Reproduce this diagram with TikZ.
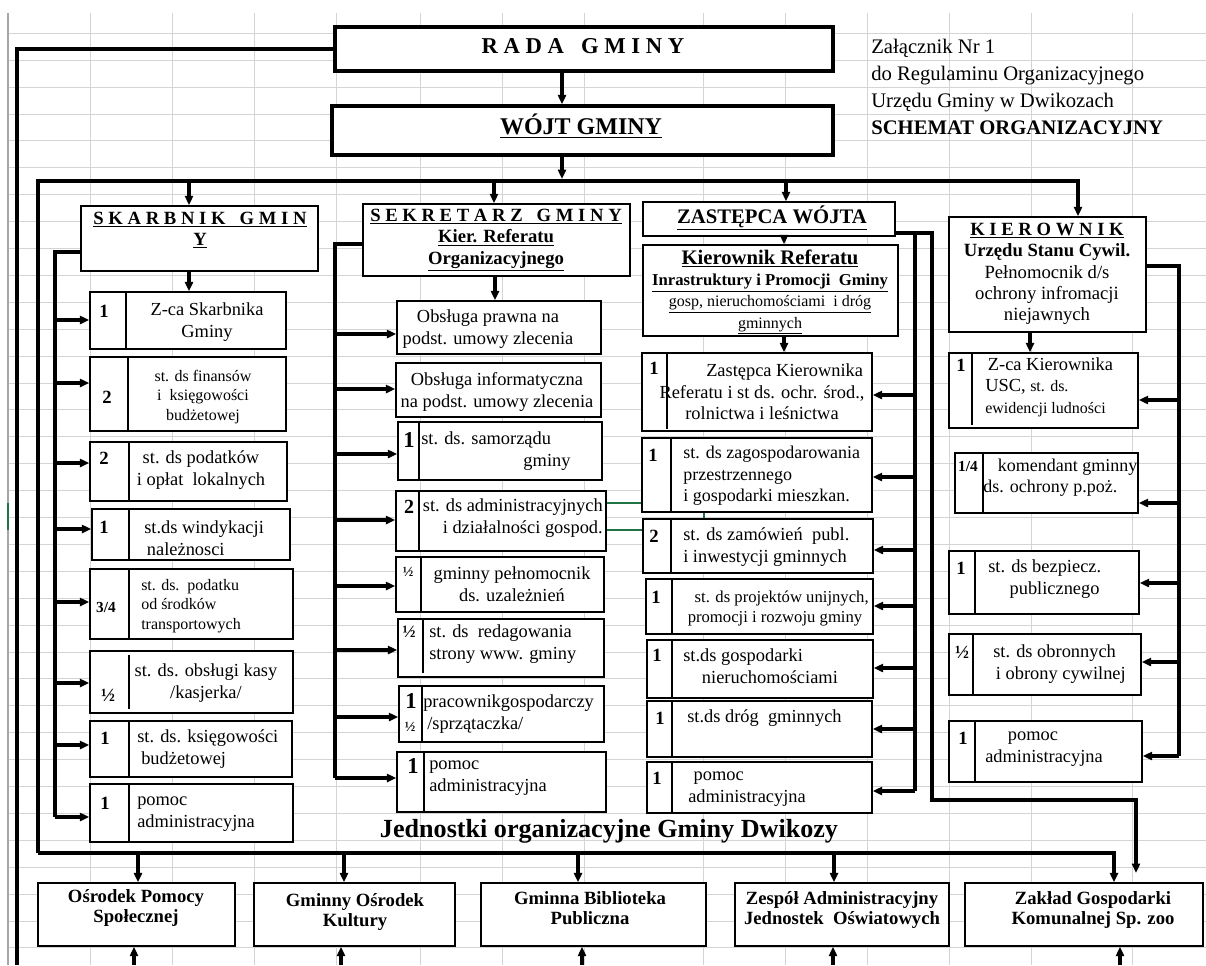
\documentclass[tikz,border=0pt]{standalone}
\usepackage{fontspec}
\setmainfont{Liberation Serif}
\usetikzlibrary{arrows.meta,fit}
\definecolor{xlgreen}{HTML}{217346}

\begin{document}
\begin{tikzpicture}
      [x=0.75pt,y=-0.75pt,
       gridline/.style={draw=black!17,line width=0.75pt},
       bigbox/.style={draw,line width=2.6pt,fill=white,inner sep=0pt},
       headbox/.style={draw,line width=1.2pt,fill=white,inner sep=0pt},
       stanbox/.style={draw,line width=1.1pt,fill=white,inner sep=0pt},
       divider/.style={line width=1.8pt},
       link/.style={line width=2.3pt},
       arr/.style={link,-{Triangle[length=7pt,width=6pt]}},
       txt/.style={inner sep=0pt,font=\fontsize{13.8}{16.2}\selectfont},
       sm/.style={inner sep=0pt,font=\fontsize{12}{14.5}\selectfont},
       num/.style={inner sep=0pt,font=\bfseries\fontsize{14}{16}\selectfont},
       part/.style={inner sep=0pt,font=\bfseries\fontsize{11.5}{14}\selectfont},
       half/.style={inner sep=0pt,font=\bfseries\fontsize{14}{16}\selectfont},
       bignum/.style={inner sep=0pt,font=\bfseries\fontsize{17}{18}\selectfont},
       head/.style={inner sep=0pt,align=center,font=\fontsize{14}{16}\selectfont},
       unitname/.style={inner sep=0pt,align=center,font=\bfseries\fontsize{14}{15.5}\selectfont}]
        \useasboundingbox (0,0) rectangle (1206,965);
        \fill[white] (0,0) rectangle (1206,965);

        % arkusz
        \foreach \x in {90,172,254,336,420,502,584,703,785,867,949,1031,1132}
          \draw[gridline] (\x,13) -- (\x,965);
        \foreach \k in {0,...,34}
          \draw[gridline] (8,33.3+26.9*\k) -- (1206,33.3+26.9*\k);
        \draw[black!35,line width=1pt] (8,13) -- (8,965);
        \draw[xlgreen,line width=1.5pt] (8,503) -- (8,530) (606,503) -- (643,503)
          (606,530) -- (643,530) (704,512) -- (704,519);

        \node[bigbox,fit={(335,27) (833,71)}] (rada) {};
        \node[inner sep=0pt,font=\bfseries\fontsize{17}{20}\selectfont] (radat) at (583,46) {R~A~D~A~~~G~M~I~N~Y};
        \node[bigbox,fit={(332,106) (833,155)}] (wojt) {};
        \node[inner sep=0pt,font=\bfseries\fontsize{18}{20}\selectfont] (wojtt) at (581,126) {\underline{WÓJT GMINY}};

        \node[anchor=west,align=left,inner sep=0pt,font=\fontsize{15.5}{20.2}\selectfont] (zal) at (871,87) {Załącznik Nr 1\\do Regulaminu Organizacyjnego\\Urzędu Gminy w Dwikozach\\\textbf{SCHEMAT ORGANIZACYJNY}};

        \node[headbox,fit={(81,206) (318,271)}] (skarb) {};
        \node[head] (skarbt) at (200,230) {\textbf{\underline{S~K~A~R~B~N~I~K~~~G~M~I~N}}\\\textbf{\underline{Y}}};
        \node[headbox,fit={(363,204) (630,276)}] (sekr) {};
        \node[head] (sekrt) at (496,240) {\textbf{\underline{S~E~K~R~E~T~A~R~Z~~~G~M~I~N~Y}}\\\textbf{\underline{Kier. Referatu}}\\\textbf{\underline{Organizacyjnego}}};
        \node[headbox,fit={(643,202) (895,236)}] (zast) {};
        \node[inner sep=0pt,font=\bfseries\fontsize{15.5}{18}\selectfont] (zastt) at (772,218) {\underline{ZASTĘPCA WÓJTA}};
        \node[headbox,fit={(643,245) (898,336)}] (kref) {};
        \node[head] (kreft) at (770,292) {{\bfseries\fontsize{15.5}{16}\selectfont\underline{Kierownik Referatu}}\\{\bfseries\fontsize{12.5}{15}\selectfont\underline{Inrastruktury i Promocji~~Gminy}}\\{\fontsize{12}{15}\selectfont\underline{gosp, nieruchomościami~~i dróg}}\\{\fontsize{12}{15}\selectfont\underline{gminnych}}};
        \node[headbox,fit={(949,217) (1146,332)}] (kier) {};
        \node[head] (kiert) at (1047,274) {\textbf{\underline{K~I~E~R~O~W~N~I~K}}\\\textbf{Urzędu Stanu Cywil.}\\Pełnomocnik d/s\\ochrony infromacji\\niejawnych};

        \node[stanbox,fit={(90,292) (286,349)}] (sk1) {};
        \node[num] (sk1n) at (104,311) {1};
        \node[txt,align=center] (sk1t) at (207,322) {Z-ca Skarbnika\\Gminy};
        \node[stanbox,fit={(90,357) (286,431)}] (sk2) {};
        \node[num] (sk2n) at (107,397) {2};
        \node[sm,align=center] (sk2t) at (203,397) {st. ds finansów\\i~~księgowości\\budżetowej};
        \node[stanbox,fit={(90,442) (287,501)}] (sk3) {};
        \node[num] (sk3n) at (104,458) {2};
        \node[txt,align=center] (sk3t) at (201,470) {st. ds podatków\\i opłat~~lokalnych};
        \node[stanbox,fit={(92,509) (290,560)}] (sk4) {};
        \node[num] (sk4n) at (104,527) {1};
        \node[txt,align=left,anchor=west] (sk4t) at (144,538) {st.ds windykacji\\\hspace*{2pt}należnosci};
        \node[stanbox,fit={(90,569) (293,639)}] (sk5) {};
        \node[part] (sk5n) at (106,607) {3/4};
        \node[sm,align=left,anchor=west] (sk5t) at (141,606) {st. ds.~~podatku\\od środków\\transportowych};
        \node[stanbox,fit={(90,651) (293,713)}] (sk6) {};
        \node[half] (sk6n) at (108,695) {½};
        \node[txt,align=center] (sk6t) at (206,683) {st. ds. obsługi kasy\\/kasjerka/};
        \node[stanbox,fit={(90,721) (292,777)}] (sk7) {};
        \node[num] (sk7n) at (105,738) {1};
        \node[txt,align=left,anchor=west] (sk7t) at (137,749) {st. ds. księgowości\\\hspace*{3pt}budżetowej};
        \node[stanbox,fit={(90,784) (293,842)}] (sk8) {};
        \node[num] (sk8n) at (105,803) {1};
        \node[txt,align=left,anchor=west] (sk8t) at (137,814) {pomoc\\administracyjna};
        \draw[divider] (126,292) -- (126,349) (128,357) -- (128,431) (129,442) -- (129,501)
          (129,509) -- (129,560) (129,569) -- (129,639) (129,655) -- (129,709)
          (129,721) -- (129,777) (129,784) -- (129,842);

        \node[stanbox,fit={(397,301) (601,354)}] (se1) {};
        \node[txt,align=center] (se1t) at (488,329) {Obsługa prawna na\\podst. umowy zlecenia};
        \node[stanbox,fit={(396,363) (601,417)}] (se2) {};
        \node[txt,align=center] (se2t) at (497,392) {Obsługa informatyczna\\na podst. umowy zlecenia};
        \node[stanbox,fit={(398,422) (602,480)}] (se3) {};
        \node[bignum] (se3n) at (409,440) {1};
        \node[txt,anchor=west] (se3t) at (421,440) {st. ds. samorządu};
        \node[txt] (se3u) at (547,462) {gminy};
        \node[stanbox,fit={(396,491) (606,551)}] (se4) {};
        \node[num,font=\bfseries\fontsize{15}{16}\selectfont] (se4n) at (409,507) {2};
        \node[txt,align=right,anchor=east] (se4t) at (603,518) {st. ds administracyjnych\\i działalności gospod.};
        \node[stanbox,fit={(396,557) (604,612)}] (se5) {};
        \node[part,font=\bfseries\fontsize{10.5}{12}\selectfont] (se5n) at (408,572) {½};
        \node[txt,align=center] (se5t) at (512,584) {gminny pełnomocnik\\ds. uzależnień};
        \node[stanbox,fit={(398,619) (604,677)}] (se6) {};
        \node[half,font=\bfseries\fontsize{13}{15}\selectfont] (se6n) at (409,632) {½};
        \node[txt,align=left,anchor=west] (se6t) at (429,644) {st. ds~~redagowania\\strony www. gminy};
        \node[stanbox,fit={(399,686) (604,742)}] (se7) {};
        \node[bignum] (se7n) at (411,701) {1};
        \node[part,font=\bfseries\fontsize{10.5}{12}\selectfont] (se7m) at (410,727) {½};
        \node[txt,align=left,anchor=west] (se7t) at (423,714) {pracownikgospodarczy\\\hspace*{3pt}/sprzątaczka/};
        \node[stanbox,fit={(397,752) (606,812)}] (se8) {};
        \node[bignum] (se8n) at (413,766) {1};
        \node[txt,align=left,anchor=west] (se8t) at (429,778) {pomoc\\administracyjna};
        \draw[divider] (419,422) -- (419,480) (419,491) -- (419,551) (421,557) -- (421,612)
          (423,619) -- (423,673) (422,686) -- (422,742) (424,752) -- (424,812);

        \node[stanbox,fit={(642,353) (872,431)}] (za1) {};
        \node[num] (za1n) at (654,368) {1};
        \node[txt,align=center] (za1t) at (762,392) {\hspace*{34pt}Zastępca Kierownika\\Referatu i st ds. ochr. środ.,\\rolnictwa i leśnictwa};
        \node[stanbox,fit={(642,438) (872,512)}] (za2) {};
        \node[num] (za2n) at (653,455) {1};
        \node[txt,align=left,anchor=west,font=\fontsize{13.5}{16}\selectfont] (za2t) at (683,476) {st. ds zagospodarowania\\przestrzennego\\i gospodarki mieszkan.};
        \node[stanbox,fit={(643,519) (873,573)}] (za3) {};
        \node[num] (za3n) at (654,536) {2};
        \node[txt,align=left,anchor=west] (za3t) at (683,547) {st. ds zamówień~~publ.\\i inwestycji gminnych};
        \node[stanbox,fit={(646,579) (873,634)}] (za4) {};
        \node[num] (za4n) at (656,597) {1};
        \node[sm,align=center,font=\fontsize{12.5}{15}\selectfont] (za4t) at (775,608) {\hspace*{10pt}st. ds projektów unijnych,\\promocji i rozwoju gminy};
        \node[stanbox,fit={(647,640) (873,698)}] (za5) {};
        \node[num] (za5n) at (657,655) {1};
        \node[txt,align=left,anchor=west] (za5t) at (683,666) {st.ds gospodarki\\\hspace*{14pt}nieruchomościami};
        \node[stanbox,fit={(647,701) (872,757)}] (za6) {};
        \node[num] (za6n) at (660,718) {1};
        \node[txt,anchor=west] (za6t) at (687,718) {st.ds dróg~~gminnych};
        \node[stanbox,fit={(647,762) (872,813)}] (za7) {};
        \node[num] (za7n) at (657,778) {1};
        \node[txt,align=left,anchor=west] (za7t) at (688,789) {\hspace*{4pt}pomoc\\administracyjna};
        \draw[divider] (667,353) -- (667,429) (671,438) -- (671,512) (671,519) -- (671,573)
          (672,579) -- (672,634) (672,640) -- (672,698) (672,701) -- (672,757) (672,762) -- (672,813);

        \node[stanbox,fit={(949,353) (1138,428)}] (ki1) {};
        \node[num] (ki1n) at (961,365) {1};
        \node[txt,align=left,anchor=west] (ki1t) at (985,387) {\hspace*{2pt}Z-ca Kierownika\\USC, {\fontsize{12}{15}\selectfont st. ds.}\\{\fontsize{12}{15}\selectfont ewidencji ludności}};
        \node[stanbox,fit={(955,453) (1138,513)}] (ki2) {};
        \node[part] (ki2n) at (968,467) {1/4};
        \node[txt,align=left,anchor=west,font=\fontsize{13.5}{16}\selectfont] (ki2t) at (983,478) {\hspace*{11pt}komendant gminny\\ds. ochrony p.poż.};
        \node[stanbox,fit={(949,551) (1139,614)}] (ki3) {};
        \node[num] (ki3n) at (961,568) {1};
        \node[txt,align=left,anchor=west] (ki3t) at (988,579) {st. ds bezpiecz.\\\hspace*{16pt}publicznego};
        \node[stanbox,fit={(949,634) (1141,695)}] (ki4) {};
        \node[half] (ki4n) at (962,652) {½};
        \node[txt,align=left,anchor=west] (ki4t) at (993,664) {st. ds obronnych\\\hspace*{2pt}i obrony cywilnej};
        \node[stanbox,fit={(949,721) (1142,782)}] (ki5) {};
        \node[num] (ki5n) at (963,738) {1};
        \node[txt,align=left,anchor=west] (ki5t) at (985,749) {\hspace*{17pt}pomoc\\administracyjna};
        \draw[divider] (972,353) -- (972,425) (983,453) -- (983,513) (975,551) -- (975,614)
          (973,634) -- (973,695) (975,721) -- (975,782);

        \node[inner sep=0pt,font=\bfseries\fontsize{19.6}{22}\selectfont] (jedn) at (609,831) {Jednostki organizacyjne Gminy Dwikozy};

        \node[stanbox,fit={(38,883) (235,946)}] (osp) {};
        \node[unitname] (ospt) at (136,908) {Ośrodek Pomocy\\Społecznej};
        \node[stanbox,fit={(254,883) (455,946)}] (gok) {};
        \node[unitname] (gokt) at (355,912) {Gminny Ośrodek\\Kultury};
        \node[stanbox,fit={(481,883) (706,946)}] (gbp) {};
        \node[unitname] (gbpt) at (590,908) {Gminna Biblioteka\\Publiczna};
        \node[stanbox,fit={(735,883) (949,946)}] (zaoj) {};
        \node[unitname] (zaojt) at (842,910) {Zespół Administracyjny\\Jednostek~~Oświatowych};
        \node[stanbox,fit={(965,883) (1203,946)}] (zak) {};
        \node[unitname] (zakt) at (1093,910) {Zakład Gospodarki\\Komunalnej Sp. zoo};

        \coordinate (b0) at (562,179);
        \coordinate (lbot) at (17,965);
        \coordinate (busNE) at (1078,181);
        \coordinate (busSW) at (38,853);
        \coordinate (busSE) at (1114,853);
        \coordinate (skb) at (55,252);
        \coordinate (seb) at (335,244);
        \coordinate (zab) at (915,233);
        \coordinate (zaout) at (932,233);
        \coordinate (zac) at (932,800);
        \coordinate (kib) at (1179,266);

        \draw[link] (rada.west) -| (lbot);
        \draw[arr] (rada.south -| b0) -- (wojt.north -| b0);
        \draw[arr] (wojt.south -| b0) -- (b0);
        \draw[arr] (busSW) |- (busNE) -- (kier.north -| busNE);
        \draw[arr] (busSW) -| (zak.north -| busSE);
        \foreach \x/\to in {189/skarb, 494/sekr, 786/zast}
          \draw[arr] (\x,181) -- (\to.north -| \x,0);
        \foreach \x/\to in {138/osp, 344/gok, 578/gbp, 834/zaoj}
          \draw[arr] (\x,853) -- (\to.north -| \x,0);
        \foreach \x/\to in {134/osp, 341/gok, 582/gbp, 833/zaoj, 1120/zak}
          \draw[arr] (\x,965) -- (\to.south -| \x,0);

        \draw[arr] (skarb.south -| 189,0) -- (sk1.north -| 189,0);
        \draw[arr] (sekr.south -| 495,0) -- (se1.north -| 495,0);
        \draw[arr] (zast.south -| 784,0) -- (kref.north -| 784,0);
        \draw[arr] (kref.south -| 784,0) -- (za1.north -| 784,0);
        \draw[arr] (kier.south -| 1030,0) -- (ki1.north -| 1030,0);

        \draw[link] (skarb.west |- skb) -- (skb) -- (skb |- 0,817);
        \foreach \to/\y in {sk1/320, sk2/383, sk3/463, sk4/529, sk5/602, sk6/683, sk7/745, sk8/817}
          \draw[arr] (skb |- 0,\y) -- (\to.west |- 0,\y);
        \draw[link] (sekr.west |- seb) -- (seb) -- (seb |- 0,778);
        \foreach \to/\y in {se1/334, se2/389, se3/454, se4/520, se5/586, se6/650, se7/717, se8/778}
          \draw[arr] (seb |- 0,\y) -- (\to.west |- 0,\y);
        \draw[link] (zab) -- (zab |- 0,791);
        \draw[arr,shorten >=7pt] (zast.east |- zab) -- (zaout) -- (zac) -| (zak.north -| 1136,0);
        \foreach \to/\y in {za1/395, za2/477, za3/550, za4/606, za5/668, za6/729, za7/791}
          \draw[arr] (zab |- 0,\y) -- (\to.east |- 0,\y);
        \draw[link] (kier.east |- kib) -- (kib) -- (kib |- 0,756);
        \foreach \to/\y in {ki1/400, ki2/503, ki3/583, ki4/662, ki5/756}
          \draw[arr] (kib |- 0,\y) -- (\to.east |- 0,\y);
      \end{tikzpicture}
\end{document}
